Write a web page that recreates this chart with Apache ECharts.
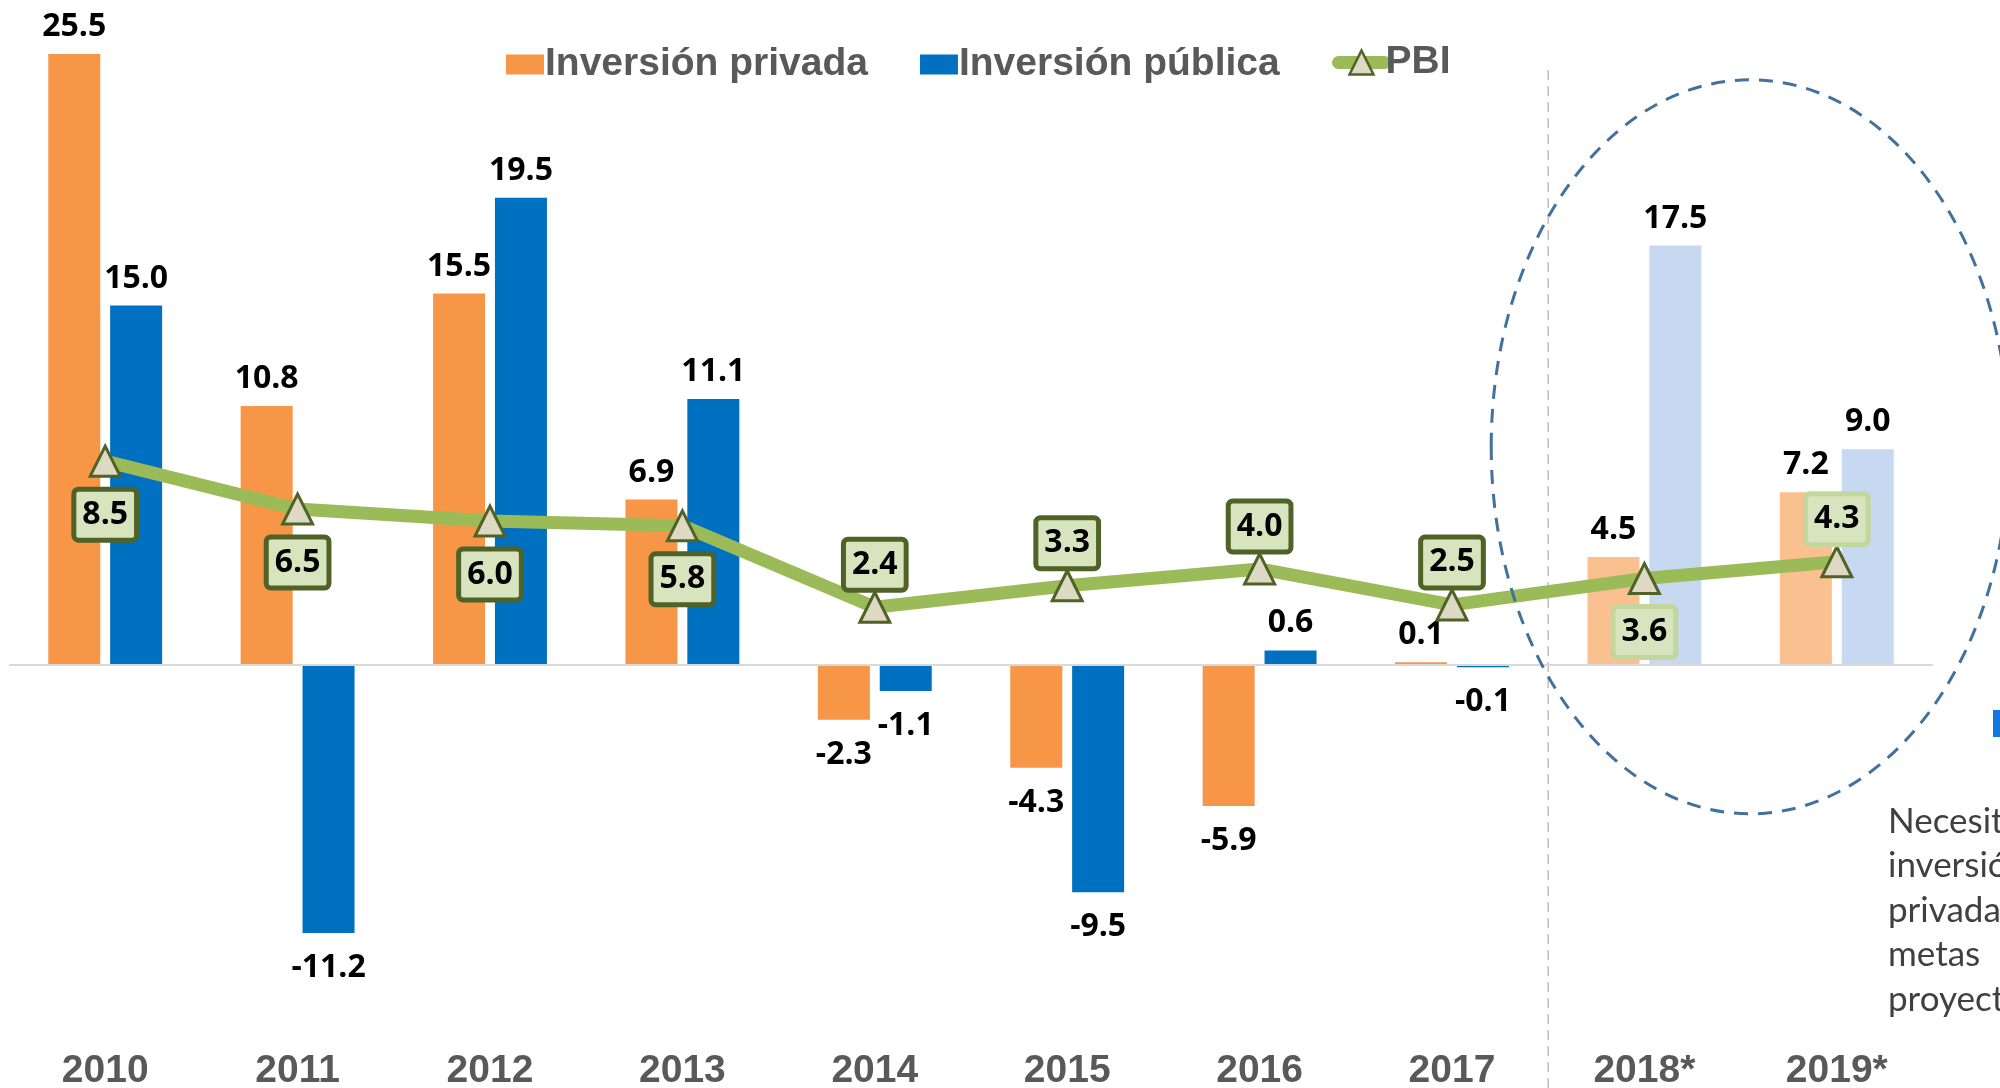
<!DOCTYPE html>
<html>
<head>
<meta charset="utf-8">
<title>Inversión privada, pública y PBI</title>
<script src="https://cdn.jsdelivr.net/npm/echarts@6/dist/echarts.min.js"></script>
<style>
    html, body { margin: 0; padding: 0; background: #fff; }
    #main { width: 2000px; height: 1088px; }
</style>
</head>
<body>
<div id="main"></div>
<script>
    // datos
    var years = ['2010', '2011', '2012', '2013', '2014', '2015', '2016', '2017', '2018*', '2019*'];
    var privada = [25.5, 10.8, 15.5, 6.9, -2.3, -4.3, -5.9, 0.1, 4.5, 7.2];
    var publica = [15.0, -11.2, 19.5, 11.1, -1.1, -9.5, 0.6, -0.1, 17.5, 9.0];
    var pbi = [8.5, 6.5, 6.0, 5.8, 2.4, 3.3, 4.0, 2.5, 3.6, 4.3];
    // etiqueta del PBI: debajo (b) o encima (t)
    var pbiLabelPos = ['b', 'b', 'b', 'b', 't', 't', 't', 't', 'b', 't'];
    var proyectados = 2; // los dos ultimos años son proyecciones
    var nota = ['Necesitamos', 'inversión', 'privada para', 'metas', 'proyectadas'];

    var labelFont = '"Open Sans", "Noto Sans", sans-serif';
    var axisFont = '"Liberation Sans", Arial, sans-serif';

    function $each(arr, fn) { for (var i = 0; i < arr.length; i++) fn(i, arr[i]); }

    function barData(values, color, lightColor) {
        var out = [];
        $each(values, function (i, v) {
            var proj = i >= values.length - proyectados;
            out.push({
                value: v,
                itemStyle: { color: proj ? lightColor : color },
                label: v >= 0 ? { position: 'top', distance: 11 } : { position: 'bottom', distance: 19 }
            });
        });
        return out;
    }

    var pbiData = [];
    $each(pbi, function (i, v) {
        var proj = i >= pbi.length - proyectados;
        var below = pbiLabelPos[i] === 'b';
        pbiData.push({
            value: v,
            label: {
                position: below ? 'bottom' : 'top',
                distance: below ? 14 : 3,
                borderColor: proj ? '#C3D69B' : '#4F6228'
            }
        });
    });

    function barLabel() {
        return {
            show: true,
            fontFamily: labelFont,
            fontWeight: 'bold',
            fontSize: 32,
            color: '#000',
            formatter: function (p) { return p.value.toFixed(1); }
        };
    }

    var legendText = {
        fontFamily: axisFont,
        fontWeight: 'bold',
        fontSize: 39,
        color: '#595959',
        padding: [0, 0, 0, -4]
    };

    var myChart = echarts.init(document.getElementById('main'));
    var option = {
        animation: false,
        backgroundColor: '#fff',
        grid: { left: 9, right: 67, top: 42, bottom: 40, containLabel: false, outerBoundsMode: 'none' },
        legend: [
            {
                top: 40,
                left: 501,
                itemWidth: 38,
                itemHeight: 20,
                itemGap: 52,
                textStyle: legendText,
                data: [
                    { name: 'Inversión privada', icon: 'rect' },
                    { name: 'Inversión pública', icon: 'rect' }
                ]
            },
            {
                top: 38,
                left: 1327,
                itemWidth: 46,
                itemHeight: 30,
                textStyle: legendText,
                data: [
                    {
                        name: 'PBI',
                        lineStyle: { width: 13, cap: 'round' },
                        itemStyle: { borderWidth: 2.5 }
                    }
                ]
            }
        ],
        xAxis: {
            type: 'category',
            data: years,
            axisLine: { show: false },
            axisTick: { show: false },
            splitLine: { show: false },
            axisLabel: {
                margin: 4,
                fontFamily: axisFont,
                fontWeight: 'bold',
                fontSize: 39,
                color: '#595959'
            }
        },
        yAxis: {
            type: 'value',
            min: -16,
            max: 26,
            show: false,
            splitLine: { show: false }
        },
        series: [
            {
                name: 'Inversión privada',
                type: 'bar',
                barWidth: 52,
                barGap: '19%',
                itemStyle: { color: '#F79646' },
                label: barLabel(),
                markLine: {
                    silent: true,
                    symbol: 'none',
                    label: { show: false },
                    lineStyle: { color: '#D9D9D9', width: 2, type: 'solid' },
                    data: [{ yAxis: 0 }]
                },
                data: barData(privada, '#F79646', '#FAC090')
            },
            {
                name: 'Inversión pública',
                type: 'bar',
                barWidth: 52,
                barGap: '19%',
                itemStyle: { color: '#0070C0' },
                label: barLabel(),
                data: barData(publica, '#0070C0', '#C6D9F1')
            },
            {
                name: 'PBI',
                type: 'line',
                z: 5,
                symbol: 'triangle',
                symbolSize: [30, 30],
                lineStyle: { color: '#9BBB59', width: 13 },
                itemStyle: { color: '#DDD9C3', borderColor: '#4F6228', borderWidth: 3 },
                label: {
                    show: true,
                    fontFamily: labelFont,
                    fontWeight: 'bold',
                    fontSize: 32,
                    lineHeight: 36,
                    color: '#000',
                    backgroundColor: '#D7E4BD',
                    borderWidth: 5,
                    borderRadius: 2,
                    padding: [5, 6, 5, 6],
                    formatter: function (p) { return p.value.toFixed(1); }
                },
                data: pbiData
            }
        ]
    };
    myChart.setOption(option);

    // anotaciones: separador de proyecciones, elipse y nota lateral
    var p17 = myChart.convertToPixel({ xAxisIndex: 0 }, '2017');
    var p18 = myChart.convertToPixel({ xAxisIndex: 0 }, '2018*');
    var p19 = myChart.convertToPixel({ xAxisIndex: 0 }, '2019*');
    var divX = (p17 + p18) / 2;
    var ellCx = p18 + 0.55 * (p19 - p18);
    var ellCy = myChart.convertToPixel({ yAxisIndex: 0 }, 9.1);

    myChart.setOption({
        graphic: [
            {
                type: 'line',
                silent: true,
                shape: { x1: divX, y1: 70, x2: divX, y2: 1088 },
                style: { stroke: '#BFBFBF', lineWidth: 1.5, lineDash: [10, 6] }
            },
            {
                type: 'ellipse',
                silent: true,
                z: 10,
                shape: { cx: ellCx, cy: ellCy, rx: 259, ry: 367 },
                style: { fill: null, stroke: '#41719C', lineWidth: 3, lineDash: [14, 10] }
            },
            {
                type: 'rect',
                silent: true,
                shape: { x: 1993, y: 710, width: 10, height: 27 },
                style: { fill: '#1278E0' }
            },
            {
                type: 'text',
                silent: true,
                left: 1888,
                top: 799,
                style: {
                    text: nota.join('\n'),
                    fontFamily: 'Lato, "Open Sans", sans-serif',
                    fontSize: 35,
                    lineHeight: 44.6,
                    fill: '#404040'
                }
            }
        ]
    });
</script>
</body>
</html>
